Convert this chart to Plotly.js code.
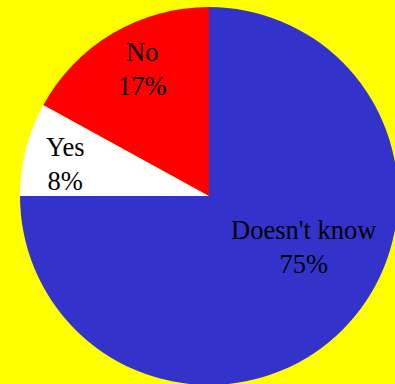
<!DOCTYPE html>
<html>
<head>
<meta charset="utf-8">
<script src="https://cdn.plot.ly/plotly-3.0.1.min.js"></script>
<style>
html,body{margin:0;padding:0;background:#FFFF00;overflow:hidden;width:395px;height:384px;}
#chart{width:400px;height:390px;}
</style>
</head>
<body>
<div id="chart"></div>
<script>
// Data
const labels = ["Doesn't know", "Yes", "No"];
const values = [75, 8, 17];
const colors = ["#3333CC", "#FFFFFF", "#FF0000"];
// label anchor positions in page pixels (layout only)
const labelPos = [[304, 247], [65, 164], [142, 69]];

const W = 400, H = 390;
const total = values.reduce((a, b) => a + b, 0);

const annotations = labels.map((lab, i) => ({
  text: lab + '<br>' + Math.round(values[i] / total * 100) + '%',
  xref: 'paper', yref: 'paper',
  x: labelPos[i][0] / W, y: 1 - labelPos[i][1] / H,
  xanchor: 'center', yanchor: 'middle',
  showarrow: false,
  align: 'center',
  font: {family: '"Liberation Serif", "Times New Roman", serif', size: 26.5, color: '#000000'}
}));

const cx = 209, cy = 196, r = 189;
Plotly.newPlot('chart', [{
  type: 'pie',
  labels: labels,
  values: values,
  sort: false,
  direction: 'clockwise',
  rotation: 0,
  textinfo: 'none',
  hoverinfo: 'none',
  marker: {colors: colors, line: {width: 0}},
  domain: {x: [(cx - r) / W, (cx + r) / W], y: [(H - cy - r) / H, (H - cy + r) / H]}
}], {
  width: W, height: H,
  margin: {l: 0, r: 0, t: 0, b: 0, pad: 0},
  paper_bgcolor: '#FFFF00',
  plot_bgcolor: '#FFFF00',
  showlegend: false,
  annotations: annotations
}, {displayModeBar: false, staticPlot: true});
</script>
</body>
</html>
